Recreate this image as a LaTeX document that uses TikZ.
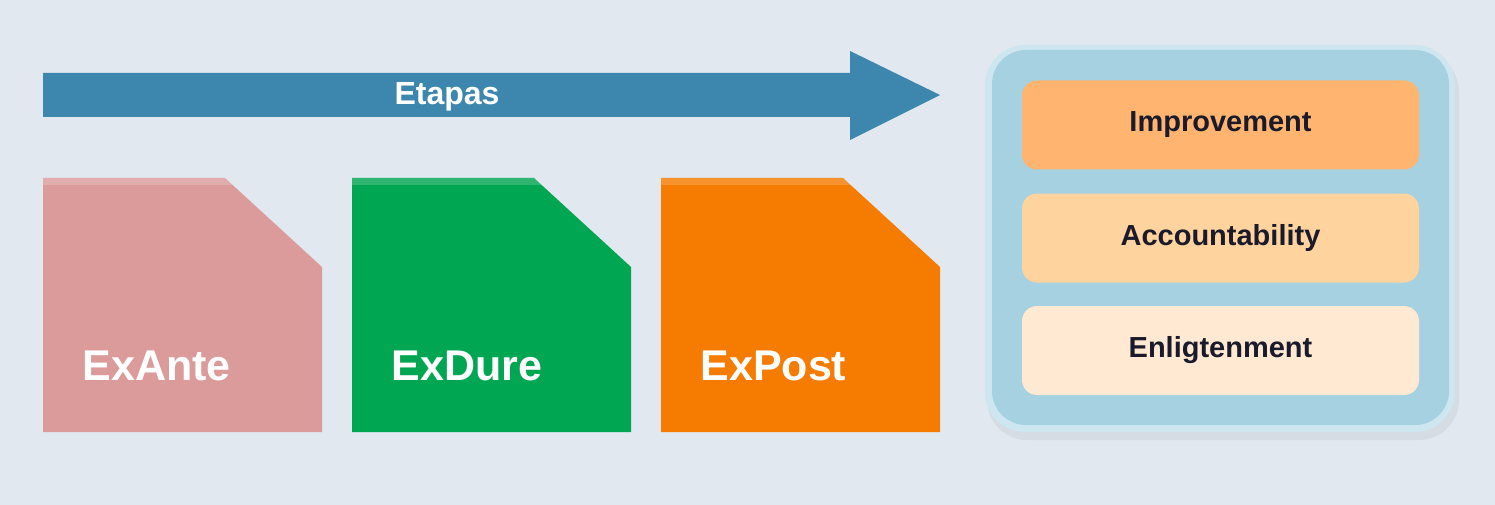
\documentclass[tikz,border=0pt]{standalone}
\usepackage{fontspec}
\setmainfont{Liberation Sans}
\begin{document}
\begin{tikzpicture}[x=1pt,y=-1pt,
  lbl/.style={text=white,font=\fontsize{43}{46}\selectfont\bfseries,anchor=west},
  item/.style={rounded corners=15pt,minimum width=397pt,minimum height=89pt,font=\fontsize{29}{32}\selectfont\bfseries,text=txt,inner sep=0pt}]
\definecolor{bg}{HTML}{E1E8F0}
\definecolor{arr}{HTML}{3D87AE}
\definecolor{pk}{HTML}{DB9B9B}
\definecolor{gr}{HTML}{00A651}
\definecolor{orc}{HTML}{F57C00}
\definecolor{pnl}{HTML}{A6D1E0}
\definecolor{pnb}{HTML}{CDE6F0}
\definecolor{i1}{HTML}{FFB570}
\definecolor{i2}{HTML}{FFD39E}
\definecolor{i3}{HTML}{FFE9D2}
\definecolor{txt}{HTML}{1A1A2A}
\fill[bg] (0,0) rectangle (1495,505);
\useasboundingbox (0,0) rectangle (1495,505);
% arrow
\fill[arr] (43,73) -- (850,73) -- (850,51) -- (940,95) -- (850,140) -- (850,117) -- (43,117) -- cycle;
\node[text=white,font=\fontsize{32}{36}\selectfont\bfseries] (et) at (447,97) {Etapas};
% cards
\foreach \x/\c/\t/\n in {43/pk/ExAnte/a,352/gr/ExDure/b,661/orc/ExPost/c}{
  \fill[\c] (\x,178) -- (\x+182,178) -- (\x+279,267) -- (\x+279,432) -- (\x,432) -- cycle;
  \fill[white,opacity=0.18] (\x,178) -- (\x+182,178) -- (\x+190,185) -- (\x,185) -- cycle;
  \node[lbl] (\n) at (\x+36,366) {\t};
}
% panel
\fill[black,opacity=0.05,rounded corners=40pt] (987,52) rectangle (1459,440);
\fill[pnb,rounded corners=40pt] (985,45) rectangle (1455,432);
\fill[pnl,rounded corners=34pt] (992,50) rectangle (1449,425);
\node[item,fill=i1] (imp) at (1220.5,125) {Improvement};
\node[item,fill=i2] (acc) at (1220.5,238) {Accountability};
\node[item,fill=i3] (enl) at (1220.5,350.5) {Enligtenment};
\end{tikzpicture}
\end{document}
